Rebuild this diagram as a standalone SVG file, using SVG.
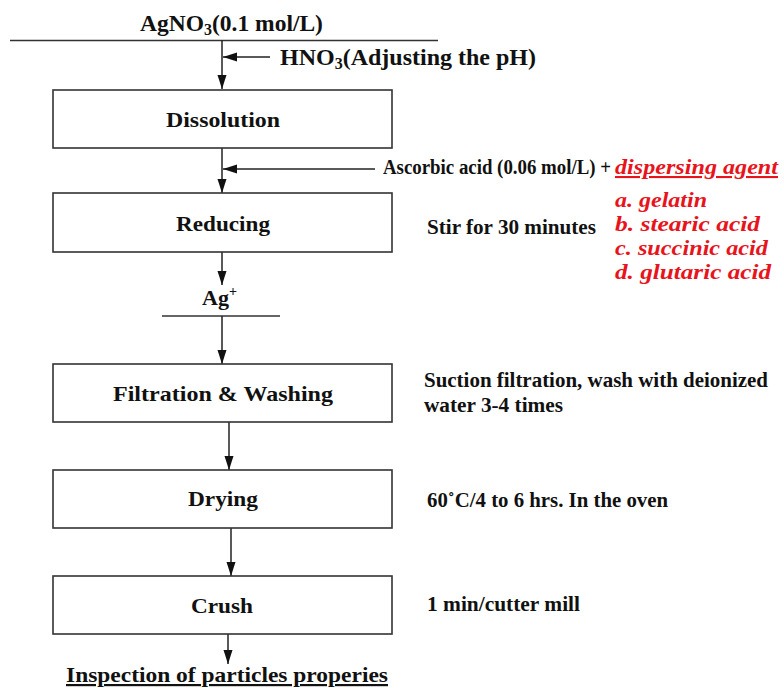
<svg xmlns="http://www.w3.org/2000/svg" width="784" height="688" viewBox="0 0 784 688">
<defs>
<marker id="arr" viewBox="0 0 14 10" refX="14" refY="5" markerWidth="14" markerHeight="10" markerUnits="userSpaceOnUse" orient="auto">
<path d="M0,0.5 L14,5 L0,9.5 z" fill="#111"/>
</marker>
<style>
.box{fill:#fff;stroke:#333;stroke-width:1.6}
.ln{stroke:#333;stroke-width:1.5;fill:none}
.ar{stroke:#222;stroke-width:1.5;fill:none;marker-end:url(#arr)}
text{font-family:"Liberation Serif","Times New Roman",serif;font-weight:bold;fill:#111}
.lbl{font-size:22px}
.note{font-size:20px}
.red{font-size:21px;font-style:italic;fill:#e8141c}
</style>
</defs>
<rect width="784" height="688" fill="#fff"/>
<g id="connectors">
<line class="ln" x1="10" y1="40.5" x2="438" y2="40.5"/>
<line class="ar" x1="222" y1="40" x2="222" y2="89"/>
<line class="ar" x1="270" y1="57" x2="223" y2="57"/>
<line class="ar" x1="222" y1="148" x2="222" y2="193"/>
<line class="ar" x1="375" y1="169" x2="223" y2="169"/>
<line class="ar" x1="222" y1="252" x2="222" y2="285"/>
<line class="ln" x1="162" y1="316" x2="280" y2="316"/>
<line class="ar" x1="222" y1="316" x2="222" y2="364"/>
<line class="ar" x1="229" y1="422" x2="229" y2="470"/>
<line class="ar" x1="231" y1="528" x2="231" y2="576"/>
<line class="ar" x1="228" y1="634" x2="228" y2="664"/>
</g>
<g id="feed">
<text x="140" y="31" font-size="23.5">AgNO<tspan font-size="16" dy="4">3</tspan><tspan dy="-4">(0.1 mol/L)</tspan></text>
</g>
<g id="hno3">
<text x="280" y="65" font-size="24">HNO<tspan font-size="16" dy="4">3</tspan><tspan dy="-4">(Adjusting the pH)</tspan></text>
</g>
<g id="dissolution">
<rect class="box" x="53" y="90" width="339" height="58"/>
<text x="166" y="127" class="lbl" textLength="114" lengthAdjust="spacingAndGlyphs">Dissolution</text>
</g>
<g id="ascorbic">
<text x="383" y="174" font-size="20" textLength="228" lengthAdjust="spacingAndGlyphs">Ascorbic acid (0.06 mol/L) +</text>
<text x="615" y="174" class="red" text-decoration="underline" textLength="163" lengthAdjust="spacingAndGlyphs">dispersing agent</text>
<text x="615" y="207" class="red" textLength="92" lengthAdjust="spacingAndGlyphs">a. gelatin</text>
<text x="615" y="231" class="red" textLength="145" lengthAdjust="spacingAndGlyphs">b. stearic acid</text>
<text x="615" y="255" class="red" textLength="153" lengthAdjust="spacingAndGlyphs">c. succinic acid</text>
<text x="615" y="279" class="red" textLength="156" lengthAdjust="spacingAndGlyphs">d. glutaric acid</text>
</g>
<g id="reducing">
<rect class="box" x="53" y="193" width="339" height="59"/>
<text x="176" y="231" class="lbl" textLength="94" lengthAdjust="spacingAndGlyphs">Reducing</text>
<text x="427" y="234" class="note" textLength="169" lengthAdjust="spacingAndGlyphs">Stir for 30 minutes</text>
</g>
<g id="ag">
<text x="202" y="305" font-size="22">Ag<tspan font-size="14" dy="-9">+</tspan></text>
</g>
<g id="filtration">
<rect class="box" x="53" y="364" width="339" height="58"/>
<text x="113" y="401" class="lbl" textLength="220" lengthAdjust="spacingAndGlyphs">Filtration &amp; Washing</text>
<text x="424" y="387" class="note" textLength="344" lengthAdjust="spacingAndGlyphs">Suction filtration, wash with deionized</text>
<text x="424" y="412" class="note" textLength="139" lengthAdjust="spacingAndGlyphs">water 3-4 times</text>
</g>
<g id="drying">
<rect class="box" x="53" y="470" width="339" height="58"/>
<text x="188" y="506" class="lbl" textLength="70" lengthAdjust="spacingAndGlyphs">Drying</text>
<text x="427" y="507" class="note" textLength="241" lengthAdjust="spacingAndGlyphs">60˚C/4 to 6 hrs. In the oven</text>
</g>
<g id="crush">
<rect class="box" x="53" y="576" width="339" height="58"/>
<text x="191" y="613" class="lbl" textLength="62" lengthAdjust="spacingAndGlyphs">Crush</text>
<text x="427" y="611" class="note" textLength="153" lengthAdjust="spacingAndGlyphs">1 min/cutter mill</text>
</g>
<g id="inspection">
<text x="66" y="682" class="lbl" text-decoration="underline" textLength="322" lengthAdjust="spacingAndGlyphs">Inspection of particles properies</text>
</g>
</svg>
